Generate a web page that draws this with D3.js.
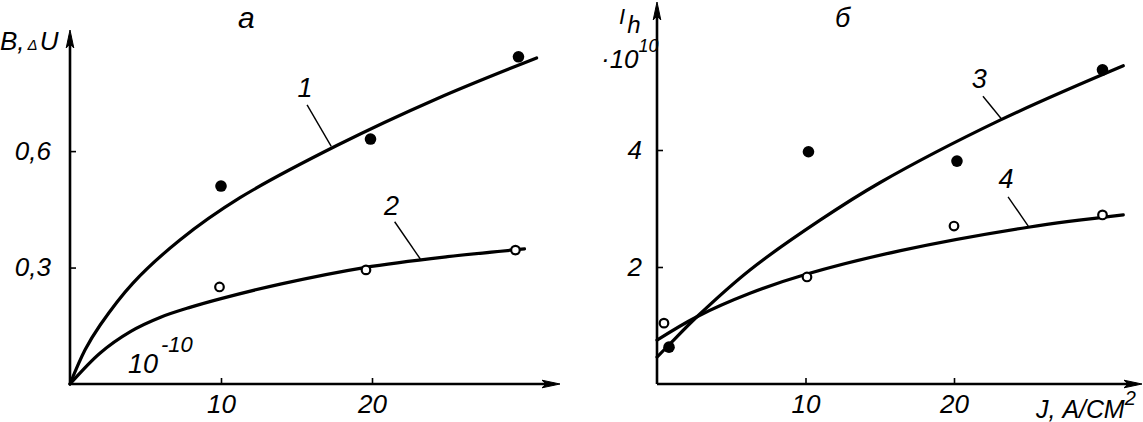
<!DOCTYPE html>
<html><head><meta charset="utf-8">
<script src="https://cdn.jsdelivr.net/npm/d3@7"></script>
<style>
body{margin:0;background:#fff}
svg{display:block;background:#fff}
text{font-family:"Liberation Sans","DejaVu Sans",sans-serif;font-style:italic;fill:#000}
</style>
</head><body>
<svg id="c" width="1143" height="422"></svg>
<script>
// ---------- Panel а (left) ----------
const leftCurve1X = [0, 1.0, 2.0, 4.17, 7.28, 11.26, 17.7, 24.3, 30.9];
const leftCurve1Y = [0, 0.088, 0.152, 0.26, 0.371, 0.48, 0.615, 0.735, 0.84];
const leftCurve2X = [0, 2, 4, 6, 8, 10, 14, 19.5, 25, 30.1];
const leftCurve2Y = [0, 0.08, 0.135, 0.172, 0.198, 0.22, 0.258, 0.300, 0.328, 0.348];
const leftFilledX = [10.0, 19.9, 29.7];
const leftFilledY = [0.51, 0.631, 0.843];
const leftOpenX = [9.9, 19.6, 29.5];
const leftOpenY = [0.25, 0.294, 0.345];
const leftXTicks = [10, 20];
const leftXTickLabels = ["10", "20"];
const leftYTicks = [0.3, 0.6];
const leftYTickLabels = ["0,3", "0,6"];

// ---------- Panel б (right) ----------
const rightCurve3X = [0, 0.81, 2.69, 6.26, 10.98, 15.0, 23.1, 31.4];
const rightCurve3Y = [0.46, 0.67, 1.15, 1.95, 2.80, 3.44, 4.51, 5.44];
const rightCurve4X = [0, 2.69, 6.26, 10.1, 16.4, 25.0, 31.4];
const rightCurve4Y = [0.75, 1.15, 1.55, 1.88, 2.28, 2.68, 2.89];
const rightFilledX = [0.81, 10.2, 20.2, 30.0];
const rightFilledY = [0.63, 3.97, 3.81, 5.37];
const rightOpenX = [0.47, 10.1, 20.0, 30.0];
const rightOpenY = [1.04, 1.83, 2.70, 2.89];
const rightXTicks = [10, 20];
const rightXTickLabels = ["10", "20"];
const rightYTicks = [2, 4];
const rightYTickLabels = ["2", "4"];

const svg = d3.select("#c");

const xL = d3.scaleLinear().domain([0, 32.45]).range([70, 560]);
const yL = d3.scaleLinear().domain([0, 0.912]).range([384, 30]);
const xR = d3.scaleLinear().domain([0, 32.66]).range([657, 1142]);
const yR = d3.scaleLinear().domain([0, 6.53]).range([384, 2]);

function arrowHead(g, x, y, dir) {
  const L = 18, W = 3.8;
  let p;
  if (dir === "up") p = `M${x},${y} L${x - W},${y + L} L${x},${y + L - 4} L${x + W},${y + L} Z`;
  else p = `M${x},${y} L${x - L},${y - W} L${x - L + 4},${y} L${x - L},${y + W} Z`;
  g.append("path").attr("d", p).attr("fill", "#000").attr("stroke", "#000").attr("stroke-width", 1);
}

function panel(x, y, opts) {
  const g = svg.append("g");
  const x0 = x(0), y0 = y(0);
  g.append("line").attr("x1", x0).attr("y1", y0).attr("x2", x0).attr("y2", y.range()[1] + 6)
    .attr("stroke", "#000").attr("stroke-width", 2.6);
  g.append("line").attr("x1", x0).attr("y1", y0).attr("x2", x.range()[1] - 6).attr("y2", y0)
    .attr("stroke", "#000").attr("stroke-width", 2.6);
  arrowHead(g, x0, y.range()[1], "up");
  arrowHead(g, x.range()[1], y0, "right");

  const ax = d3.axisBottom(x).tickValues(opts.xTicks)
    .tickFormat((d, i) => opts.xTickLabels[i]).tickSizeInner(-6).tickSizeOuter(0).tickPadding(11);
  const gx = g.append("g").attr("transform", `translate(0,${y0})`).call(ax);
  const ay = d3.axisLeft(y).tickValues(opts.yTicks)
    .tickFormat((d, i) => opts.yTickLabels[i]).tickSizeInner(-6).tickSizeOuter(0).tickPadding(opts.yPad);
  const gy = g.append("g").attr("transform", `translate(${x0},0)`).call(ay);
  [gx, gy].forEach(a => {
    a.select(".domain").remove();
    a.attr("font-family", null).attr("font-size", null);
    a.selectAll(".tick line").attr("stroke", "#000").attr("stroke-width", 1.6);
    a.selectAll(".tick text").attr("font-size", 26).attr("fill", "#000")
      .style("font-family", '"Liberation Sans","DejaVu Sans",sans-serif').style("font-style", "italic");
  });

  const line = d3.line().x(d => x(d[0])).y(d => y(d[1])).curve(d3.curveCatmullRom.alpha(0.5));
  opts.curves.forEach(c => {
    g.append("path").datum(d3.zip(c[0], c[1])).attr("d", line)
      .attr("fill", "none").attr("stroke", "#000").attr("stroke-width", 3.2)
      .attr("stroke-linecap", "round");
  });
  g.selectAll(null).data(d3.zip(opts.filled[0], opts.filled[1])).join("circle")
    .attr("cx", d => x(d[0])).attr("cy", d => y(d[1])).attr("r", 5.8).attr("fill", "#000");
  g.selectAll(null).data(d3.zip(opts.open[0], opts.open[1])).join("circle")
    .attr("cx", d => x(d[0])).attr("cy", d => y(d[1])).attr("r", 4.3)
    .attr("fill", "#fff").attr("stroke", "#000").attr("stroke-width", 2.2);
  opts.labels.forEach(l => {
    g.append("line").attr("x1", x(l.l[0])).attr("y1", y(l.l[1])).attr("x2", x(l.l[2])).attr("y2", y(l.l[3]))
      .attr("stroke", "#000").attr("stroke-width", 1.4);
    g.append("text").attr("x", x(l.t[0])).attr("y", y(l.t[1])).attr("text-anchor", "middle")
      .attr("font-size", 27).text(l.s);
  });
  return g;
}

panel(xL, yL, {
  xTicks: leftXTicks, xTickLabels: leftXTickLabels, yTicks: leftYTicks, yTickLabels: leftYTickLabels, yPad: 19,
  curves: [[leftCurve1X, leftCurve1Y], [leftCurve2X, leftCurve2Y]],
  filled: [leftFilledX, leftFilledY], open: [leftOpenX, leftOpenY],
  labels: [
    {s: "1", t: [15.56, 0.74], l: [15.7, 0.719, 17.3, 0.612]},
    {s: "2", t: [21.3, 0.436], l: [21.5, 0.418, 23.2, 0.322]}
  ]
});
panel(xR, yR, {
  xTicks: rightXTicks, xTickLabels: rightXTickLabels, yTicks: rightYTicks, yTickLabels: rightYTickLabels, yPad: 15,
  curves: [[rightCurve3X, rightCurve3Y], [rightCurve4X, rightCurve4Y]],
  filled: [rightFilledX, rightFilledY], open: [rightOpenX, rightOpenY],
  labels: [
    {s: "3", t: [21.7, 5.06], l: [21.95, 4.92, 23.2, 4.53]},
    {s: "4", t: [23.5, 3.35], l: [23.64, 3.20, 25.0, 2.70]}
  ]
});

const tL = svg.append("text").attr("x", xL(3.84)).attr("y", yL(0.028)).attr("font-size", 27);
tL.append("tspan").text("10");
tL.append("tspan").attr("dy", -21).attr("dx", 3).attr("font-size", 22).text("-10");

svg.append("text").attr("x", 238).attr("y", 28).attr("font-size", 30).text("а");
svg.append("text").attr("x", 835).attr("y", 27).attr("font-size", 27).text("б");

const yt = svg.append("text").attr("x", 0).attr("y", 50).attr("font-size", 26);
yt.append("tspan").text("B,");
yt.append("tspan").attr("font-size", 15).attr("dx", 3).text("Δ");
yt.append("tspan").attr("dx", 2).text("U");

const rt = svg.append("text").attr("x", 619).attr("y", 24).attr("font-size", 22);
rt.append("tspan").text("I");
rt.append("tspan").attr("font-size", 24).attr("dy", 9).attr("dx", 2).text("h");
const rt2 = svg.append("text").attr("x", 601).attr("y", 68).attr("font-size", 26);
rt2.append("tspan").text("·10");
rt2.append("tspan").attr("font-size", 18).attr("dy", -16).attr("dx", 0).text("10");

const xt = svg.append("text").attr("x", 1036).attr("y", 418).attr("font-size", 25);
xt.append("tspan").text("J, А/СМ");
xt.append("tspan").attr("font-size", 20).attr("dy", -13).text("2");
</script>
</body></html>
